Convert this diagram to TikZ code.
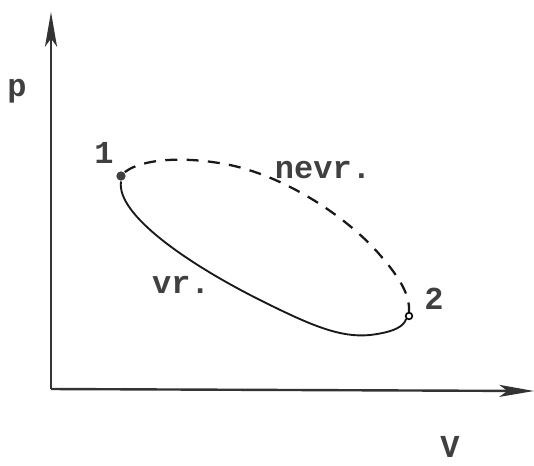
\documentclass[tikz,border=0pt]{standalone}
\usepackage{fontspec}
\newfontfamily\labfont{Liberation Mono}
\usetikzlibrary{arrows.meta}
\tikzset{
  axis/.style={line width=1.8pt, draw=black!80, -{Stealth[length=26pt,width=9pt,inset=6pt]}},
  curve/.style={line width=1.4pt, draw=black!90},
  lab/.style={font=\labfont\bfseries\fontsize{24}{28}\selectfont, text=black!75, inner sep=0pt},
  dot/.style={circle, inner sep=0pt, minimum size=7pt, line width=1.2pt}
}
\begin{document}
\begin{tikzpicture}[x=0.75pt,y=-0.75pt]
\useasboundingbox (0,0) rectangle (534,465);
\coordinate (o) at (51,389);
\coordinate (ytip) at (51,12);
\coordinate (xtip) at (534,391);
\draw[axis] (o) -- (ytip);
\draw[axis] (o) -- (xtip);
\node[dot, fill=black!75] (p1) at (121,176) {};
\node[dot, draw=black, fill=white, minimum size=5pt] (p2) at (409,316) {};
\draw[curve] (p1.south) .. controls (116,215) and (190,265) .. (260,300)
  .. controls (310,325) and (340,338) .. (370,335)
  .. controls (395,332) and (404,326) .. (p2.south west);
\draw[curve, line width=1.7pt, dash pattern=on 9pt off 7pt] (p1.north east) .. controls (140,160) and (180,155) .. (230,165)
  .. controls (290,178) and (350,220) .. (380,255)
  .. controls (400,278) and (410,295) .. (p2.north);
\node[lab] (n1) at (104,153) {1};
\node[lab] (n2) at (434,299) {2};
\node[lab] (np) at (17,91) {p};
\node[lab, anchor=base] (nv) at (450,457) {V};
\node[lab] (nevr) at (323,170) {nevr.};
\node[lab] (vr) at (181,285) {vr.};
\end{tikzpicture}
\end{document}
